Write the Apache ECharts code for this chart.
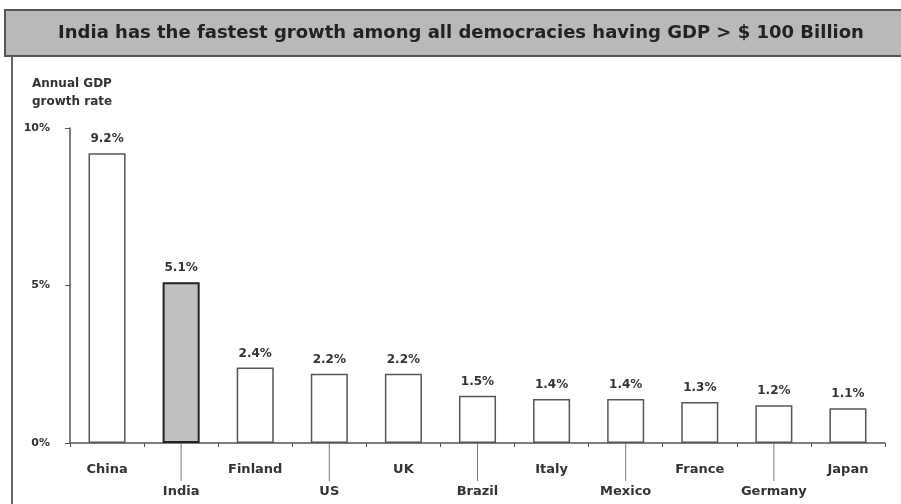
<!DOCTYPE html>
<html>
<head>
<meta charset="utf-8">
<script src="https://cdn.jsdelivr.net/npm/echarts@6/dist/echarts.min.js"></script>
<style>
  html, body { margin: 0; padding: 0; background: #fff; }
  #main { width: 901px; height: 504px; }
</style>
</head>
<body>
<div id="main"></div>
<script>
// data
const countries = ['China', 'India', 'Finland', 'US', 'UK', 'Brazil', 'Italy', 'Mexico', 'France', 'Germany', 'Japan'];
const growth = [9.2, 5.1, 2.4, 2.2, 2.2, 1.5, 1.4, 1.4, 1.3, 1.2, 1.1];
const yTicks = [0, 5, 10];
const highlight = 'India';

const font = '"DejaVu Sans", Verdana, sans-serif';
const chart = echarts.init(document.getElementById('main'));

const option = {
  animation: false,
  textStyle: { fontFamily: font },
  graphic: [
    {
      type: 'rect',
      shape: { x: 5, y: 10, width: 905, height: 46 },
      style: { fill: '#b9b9b9', stroke: '#555', lineWidth: 2 },
      z: 1
    },
    {
      type: 'text',
      x: 461,
      y: 33,
      style: {
        text: 'India has the fastest growth among all democracies having GDP > $ 100 Billion',
        font: 'bold 18px ' + font,
        fill: '#222',
        align: 'center',
        verticalAlign: 'middle'
      },
      z: 2
    },
    {
      type: 'line',
      shape: { x1: 12, y1: 56, x2: 12, y2: 504 },
      style: { stroke: '#666', lineWidth: 2 }
    }
  ],
  grid: { left: 70, right: 16, top: 128, bottom: 61 },
  xAxis: {
    type: 'category',
    data: countries,
    axisLine: { lineStyle: { color: '#555', width: 1.5 } },
    axisTick: { show: true, length: 4, lineStyle: { color: '#555' } },
    axisLabel: {
      interval: 0,
      margin: 16,
      color: '#333',
      fontWeight: 'bold',
      fontSize: 13,
      lineHeight: 22,
      formatter: (v, i) => (i % 2 ? '\n' + v : v)
    }
  },
  yAxis: {
    type: 'value',
    min: 0,
    max: 10,
    interval: 5,
    name: 'Annual GDP\ngrowth rate',
    nameLocation: 'end',
    nameGap: 17,
    nameTextStyle: {
      align: 'left',
      padding: [0, 0, 0, -38],
      color: '#333',
      fontWeight: 'bold',
      fontSize: 12,
      lineHeight: 18
    },
    axisLine: { show: true, lineStyle: { color: '#555', width: 1.5 } },
    axisTick: { show: true, length: 5, lineStyle: { color: '#555' } },
    splitLine: { show: false },
    axisLabel: {
      margin: 20,
      color: '#333',
      fontWeight: 'bold',
      fontSize: 11,
      formatter: v => (yTicks.includes(v) ? v + '%' : '')
    }
  },
  series: [
    {
      type: 'bar',
      barWidth: '50%',
      data: growth.map((v, i) => ({
        value: v,
        itemStyle: countries[i] === highlight
          ? { color: '#c0c0c0', borderColor: '#222', borderWidth: 2 }
          : { color: '#fff', borderColor: '#555', borderWidth: 1.5 }
      })),
      label: {
        show: true,
        position: 'top',
        distance: 8,
        color: '#333',
        fontWeight: 'bold',
        fontSize: 12,
        formatter: p => p.value.toFixed(1) + '%'
      }
    },
    {
      // leader lines to the lowered labels
      type: 'custom',
      silent: true,
      data: countries.map((c, i) => [i]),
      renderItem: (params, api) => {
        const i = api.value(0);
        if (i % 2 === 0) return null;
        const p = api.coord([i, 0]);
        return {
          type: 'line',
          shape: { x1: p[0], y1: p[1], x2: p[0], y2: p[1] + 38 },
          style: { stroke: '#777', lineWidth: 1 }
        };
      }
    }
  ]
};

chart.setOption(option);
</script>
</body>
</html>
